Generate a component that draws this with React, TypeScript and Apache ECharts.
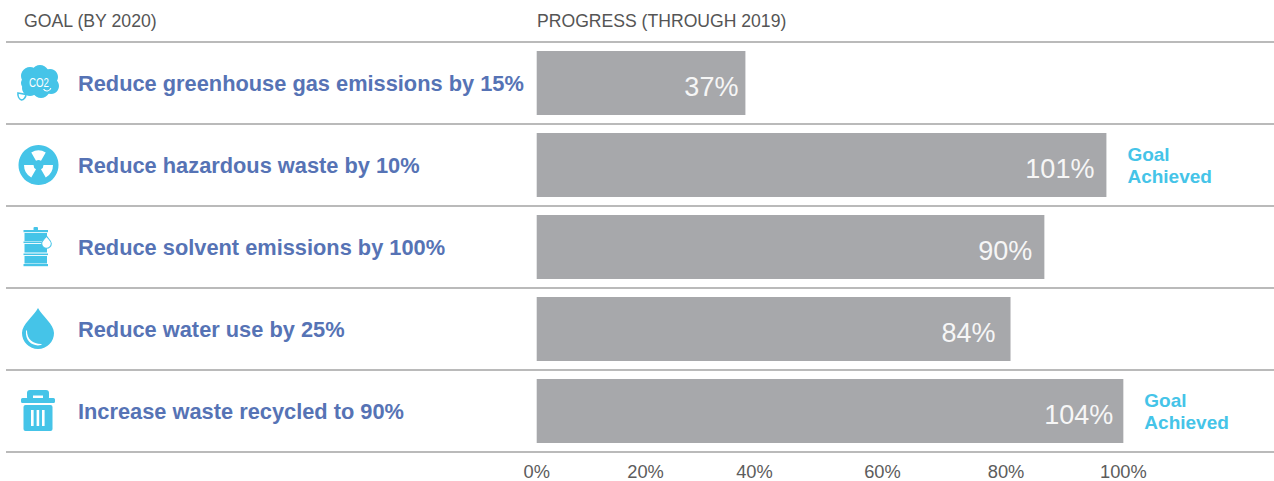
import React, { useEffect, useRef } from "react";
import * as echarts from "echarts";

const goals = [
  "Reduce greenhouse gas emissions by 15%",
  "Reduce hazardous waste by 10%",
  "Reduce solvent emissions by 100%",
  "Reduce water use by 25%",
  "Increase waste recycled to 90%",
];
const progress = [37, 101, 90, 84, 104];
const notes = ["", "Goal\nAchieved", "", "", "Goal\nAchieved"];
const tickLabels = ["0%", "20%", "40%", "60%", "80%", "100%"];
const tickStops = [0, 19.3, 38.6, 61.3, 83.2, 104];
const labelInsets = [7, 12, 12, 15, 10];

const BLUE = "#45c4e8";
const DROP = "M38 308C34 316 22 324 22 333A16 16 0 0 0 54 333C54 324 42 316 38 308Z";
const CRESCENT = "M27 331C27 339 33 344 41 344C42 344 42 345 41 345C33 347 25 341 26 331C26 330 27 330 27 331Z";
const HEART = "M18 93L26 94.5C26 97 23.5 100 21.5 100C19 99 17.5 96 18 93Z";

echarts.graphic.registerShape("dropIcon", echarts.graphic.extendPath(DROP, {}));
echarts.graphic.registerShape("crescentIcon", echarts.graphic.extendPath(CRESCENT, {}));
echarts.graphic.registerShape("heartIcon", echarts.graphic.extendPath(HEART, {}));

const FONT = "'Liberation Sans', Arial, sans-serif";

function circle(cx: number, cy: number, r: number, fill = BLUE) {
  return { type: "circle", shape: { cx, cy, r }, style: { fill } };
}
function rect(x: number, y: number, width: number, height: number, fill = BLUE, r = 0) {
  return { type: "rect", shape: { x, y, width, height, r }, style: { fill } };
}
function line(y: number) {
  return {
    type: "line",
    shape: { x1: 6, y1: y, x2: 1274, y2: y },
    style: { stroke: "#a3a3a3", lineWidth: 1.4 },
  };
}
function blade(mid: number) {
  const a = (mid * Math.PI) / 180;
  const half = Math.PI / 6;
  return {
    type: "sector",
    shape: { cx: 38.5, cy: 165, r0: 5, r: 14.5, startAngle: a - half, endAngle: a + half },
    style: { fill: "#fff" },
  };
}

const graphics: any[] = [
  { type: "text", x: 24, y: 21, style: { text: "GOAL (BY 2020)", font: `17.7px ${FONT}`, fill: "#555", verticalAlign: "middle" } },
  { type: "text", x: 537, y: 21, style: { text: "PROGRESS (THROUGH 2019)", font: `17.6px ${FONT}`, fill: "#555", verticalAlign: "middle" } },
  ...[42, 124, 206, 288, 370, 452].map(line),
  // CO2 cloud
  circle(30, 76, 9), circle(40, 74, 9), circle(50, 77, 8), circle(51, 86, 8),
  circle(41, 89, 9), circle(30, 88, 8), circle(27, 83, 6), circle(40, 82, 14),
  { type: "text", x: 39, y: 81.5, scaleX: 0.72, style: { text: "CO2", font: `13.5px ${FONT}`, fill: "#fff", align: "center", verticalAlign: "middle" } },
  { type: "arc", shape: { cx: 47, cy: 87, r: 4, startAngle: 0.3, endAngle: 2.6 }, style: { stroke: "#fff", fill: "none", lineWidth: 1.2 } },
  { type: "heartIcon", style: { fill: "#fff", stroke: BLUE, lineWidth: 1.6 } },
  // radiation
  circle(38.5, 165, 20),
  blade(-90), blade(30), blade(150),
  // barrel
  rect(33.5, 227, 4.5, 3.5, BLUE, 1),
  rect(23.5, 230, 24.5, 2.2, BLUE),
  rect(24.5, 233, 22.5, 8),
  rect(23.5, 241.5, 24.5, 1.6, BLUE),
  rect(24.5, 244, 22.5, 8.5),
  rect(23.5, 253.5, 24.5, 1.6, BLUE),
  rect(24.5, 256, 22.5, 7.5),
  rect(23.5, 264, 24.5, 2.2, BLUE),
  { type: "dropIcon", x: 35.1, y: 143.6, scaleX: 0.3, scaleY: 0.3, style: { fill: "#fff", stroke: BLUE, lineWidth: 3.5 } },
  // water drop
  { type: "dropIcon", style: { fill: BLUE } },
  { type: "crescentIcon", style: { fill: "#fff" } },
  // bin
  rect(27, 390, 22, 10, BLUE, 3),
  rect(33, 395.5, 10, 3, "#fff"),
  rect(21, 398, 34, 5, BLUE, 1.5),
  rect(23.5, 405, 29, 26, BLUE, 2),
  rect(31, 410, 2.6, 16, "#fff"),
  rect(36.6, 410, 2.6, 16, "#fff"),
  rect(42, 410, 2.6, 16, "#fff"),
];

export default function App() {
  const ref = useRef<HTMLDivElement>(null);
  useEffect(() => {
    const chart = echarts.init(ref.current!, null, { renderer: "svg" });
    chart.setOption({
      animation: false,
      backgroundColor: "#fff",
      grid: { left: 536.7, right: 4, top: 42, bottom: 29, containLabel: false },
      xAxis: {
        type: "value",
        min: 0,
        max: 130,
        splitLine: { show: false },
        axisLine: { show: false },
        axisTick: { show: false },
        axisLabel: {
          customValues: tickStops,
          margin: 10,
          fontFamily: FONT,
          fontSize: 18.3,
          color: "#5c5c5c",
          hideOverlap: false,
          formatter: (v: number) => tickLabels[tickStops.indexOf(v)] ?? "",
        },
      },
      yAxis: {
        type: "category",
        inverse: true,
        data: goals,
        axisLine: { show: false },
        axisTick: { show: false },
        splitLine: { show: false },
        axisLabel: {
          align: "left",
          margin: 458.7,
          padding: [0, 0, 3, 0],
          fontFamily: FONT,
          fontWeight: "bold",
          fontSize: 21.8,
          color: "#5673b5",
          interval: 0,
        },
      },
      series: [
        {
          type: "bar",
          data: progress.map((value, i) => ({
            value,
            label: { distance: labelInsets[i] },
          })),
          barWidth: 64,
          itemStyle: { color: "#a7a8ab" },
          label: {
            show: true,
            position: "insideRight",
            offset: [0, 4],
            formatter: "{c}%",
            fontFamily: FONT,
            fontSize: 27,
            color: "#f6f6f6",
          },
          z: 2,
        },
        {
          type: "bar",
          data: progress,
          barWidth: 64,
          barGap: "-100%",
          itemStyle: { color: "transparent" },
          label: {
            show: true,
            position: "right",
            distance: 21,
            align: "left",
            formatter: (p: any) => notes[p.dataIndex],
            fontFamily: FONT,
            fontWeight: "bold",
            fontSize: 19,
            lineHeight: 22,
            color: BLUE,
          },
          z: 3,
        },
      ],
      graphic: graphics,
    });
    return () => chart.dispose();
  }, []);
  return (
    <div
      ref={ref}
      style={{ position: "absolute", left: 0, top: 0, width: 1274, height: 481 }}
    />
  );
}
